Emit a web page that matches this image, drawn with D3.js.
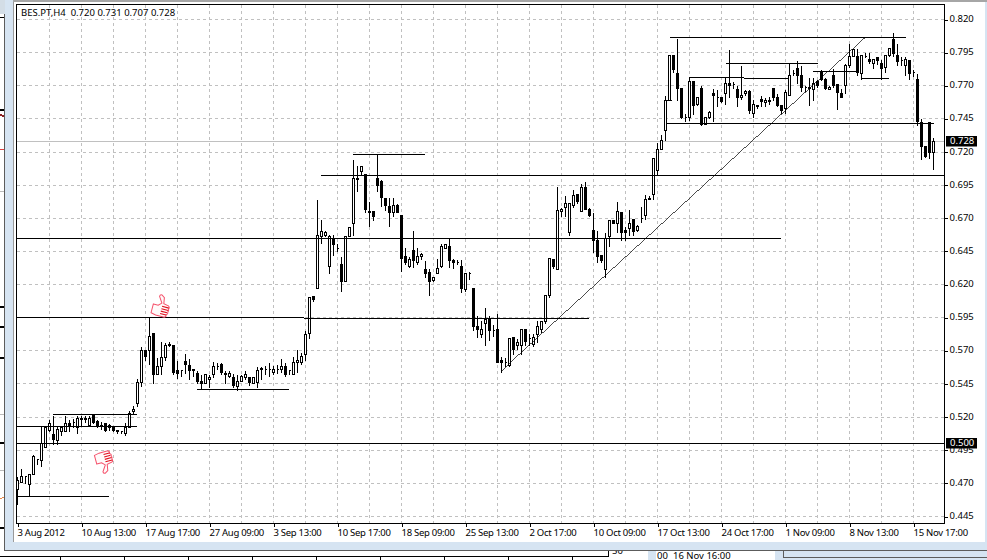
<!DOCTYPE html>
<html><head><meta charset="utf-8">
<script src="https://cdnjs.cloudflare.com/ajax/libs/d3/7.8.5/d3.min.js"></script>
<style>html,body{margin:0;padding:0;background:#fff}svg{display:block}text{font-family:"Noto Sans",sans-serif}</style>
</head><body><svg id="c" width="987" height="560"></svg>
<script>
const title = "BES.PT,H4  0.720 0.731 0.707 0.728";
const dateLabels = ["3 Aug 2012","10 Aug 13:00","17 Aug 17:00","27 Aug 09:00","3 Sep 13:00","10 Sep 17:00","18 Sep 09:00","25 Sep 13:00","2 Oct 17:00","10 Oct 09:00","17 Oct 13:00","24 Oct 17:00","1 Nov 09:00","8 Nov 13:00","15 Nov 17:00"];
const priceTicks = [0.820,0.795,0.770,0.745,0.720,0.695,0.670,0.645,0.620,0.595,0.570,0.545,0.520,0.495,0.470,0.445];
// open, high, low, close per 4-hour bar
const opens = [.465,.471,.475,.469,.477,.488,.487,.497,.510,.507,.502,.509,.509,.515,.516,.512,.519,.519,.514,.521,.517,.514,.515,.512,.513,.510,.509,.508,.512,.524,.530,.546,.570,.570,.583,.552,.558,.565,.575,.574,.555,.555,.562,.559,.556,.553,.547,.545,.548,.552,.558,.560,.553,.551,.550,.543,.547,.550,.550,.545,.546,.557,.556,.556,.554,.556,.556,.558,.555,.552,.561,.561,.567,.583,.611,.617,.656,.657,.634,.655,.647,.635,.622,.656,.666,.700,.705,.703,.675,.675,.700,.698,.685,.679,.674,.680,.672,.641,.634,.646,.637,.641,.631,.629,.623,.628,.634,.647,.649,.638,.637,.634,.616,.628,.617,.588,.582,.591,.594,.585,.586,.563,.561,.559,.580,.574,.574,.586,.579,.575,.582,.586,.592,.612,.639,.631,.675,.678,.659,.680,.688,.675,.693,.677,.661,.653,.642,.631,.656,.668,.666,.674,.661,.662,.669,.661,.670,.672,.685,.688,.706,.722,.736,.759,.793,.779,.768,.746,.746,.773,.756,.768,.741,.746,.764,.761,.761,.764,.772,.771,.767,.761,.764,.766,.749,.755,.760,.757,.759,.768,.761,.755,.753,.763,.779,.783,.778,.769,.769,.767,.773,.781,.775,.767,.778,.771,.764,.770,.785,.792,.792,.779,.792,.790,.787,.791,.787,.784,.793,.805,.793,.789,.785,.789,.780,.775,.742,.724,.742,.720];
const highs = [.475,.481,.476,.477,.492,.489,.513,.513,.518,.521,.513,.513,.521,.518,.519,.521,.521,.521,.521,.521,.518,.517,.516,.515,.513,.511,.510,.516,.525,.529,.549,.573,.570,.595,.584,.565,.577,.576,.577,.575,.563,.556,.568,.564,.557,.555,.552,.552,.552,.562,.561,.561,.555,.555,.553,.552,.552,.555,.551,.550,.558,.558,.559,.561,.559,.560,.564,.561,.556,.566,.571,.569,.585,.610,.612,.684,.669,.661,.658,.658,.651,.641,.657,.663,.714,.710,.710,.704,.683,.676,.718,.699,.686,.686,.686,.681,.673,.648,.641,.661,.648,.644,.638,.632,.626,.640,.651,.651,.655,.640,.639,.639,.629,.630,.617,.597,.593,.603,.597,.590,.598,.566,.565,.580,.581,.579,.587,.586,.583,.583,.593,.593,.612,.640,.639,.694,.678,.687,.681,.692,.688,.696,.698,.678,.674,.661,.642,.659,.669,.669,.683,.675,.664,.677,.669,.665,.679,.688,.687,.715,.727,.733,.763,.793,.793,.806,.769,.749,.776,.773,.761,.770,.746,.751,.768,.767,.762,.776,.797,.773,.770,.785,.767,.767,.760,.756,.763,.761,.762,.769,.764,.755,.767,.787,.782,.789,.785,.770,.776,.776,.775,.782,.776,.770,.783,.771,.768,.787,.802,.798,.798,.793,.795,.795,.790,.792,.790,.793,.799,.810,.802,.792,.792,.790,.782,.779,.745,.725,.742,.731];
const lows = [.454,.471,.470,.460,.477,.484,.483,.497,.509,.499,.499,.506,.509,.509,.512,.508,.514,.516,.513,.515,.512,.511,.509,.510,.509,.508,.508,.506,.512,.523,.528,.543,.563,.560,.545,.552,.552,.563,.573,.552,.549,.551,.553,.548,.551,.545,.541,.545,.542,.550,.556,.552,.545,.550,.542,.540,.547,.548,.544,.545,.542,.548,.552,.551,.552,.553,.554,.551,.552,.552,.554,.560,.563,.579,.607,.617,.651,.656,.628,.642,.645,.615,.622,.656,.657,.690,.703,.674,.664,.668,.690,.679,.676,.664,.671,.674,.630,.635,.633,.633,.635,.639,.625,.612,.622,.628,.633,.647,.633,.632,.635,.614,.615,.624,.585,.580,.580,.574,.578,.581,.561,.554,.558,.558,.567,.571,.567,.574,.574,.573,.576,.584,.591,.610,.632,.631,.671,.671,.657,.678,.681,.675,.677,.671,.644,.637,.637,.625,.649,.666,.659,.653,.653,.657,.657,.660,.667,.669,.684,.684,.703,.722,.729,.759,.780,.759,.745,.743,.744,.748,.755,.740,.741,.745,.743,.754,.757,.756,.761,.768,.754,.760,.763,.749,.746,.753,.754,.754,.756,.759,.754,.749,.749,.763,.778,.772,.766,.766,.755,.759,.769,.774,.767,.767,.769,.752,.761,.764,.784,.792,.778,.775,.791,.787,.783,.786,.775,.780,.792,.792,.785,.785,.778,.775,.777,.740,.714,.716,.715,.707];
const closes = [.472,.475,.475,.477,.490,.488,.500,.512,.515,.503,.511,.512,.515,.514,.516,.519,.518,.518,.519,.516,.514,.513,.510,.514,.510,.509,.509,.512,.523,.526,.546,.570,.566,.581,.552,.558,.565,.574,.574,.554,.553,.555,.560,.555,.555,.547,.545,.552,.550,.558,.558,.554,.552,.553,.544,.547,.551,.552,.546,.550,.555,.556,.556,.556,.556,.556,.558,.552,.555,.561,.563,.566,.582,.610,.609,.657,.660,.659,.656,.650,.647,.622,.656,.663,.700,.699,.709,.677,.674,.671,.695,.686,.680,.674,.680,.674,.640,.637,.639,.638,.641,.643,.628,.622,.625,.632,.649,.650,.638,.637,.637,.617,.628,.628,.588,.586,.586,.594,.585,.585,.561,.561,.561,.579,.571,.576,.586,.577,.579,.580,.588,.592,.612,.640,.634,.676,.677,.681,.681,.687,.683,.693,.677,.672,.653,.641,.638,.655,.668,.666,.675,.659,.659,.666,.660,.664,.670,.684,.684,.715,.722,.729,.759,.793,.782,.768,.746,.746,.773,.755,.761,.741,.746,.750,.763,.761,.758,.772,.770,.771,.761,.763,.766,.751,.756,.754,.758,.759,.758,.761,.755,.751,.765,.778,.779,.778,.769,.769,.768,.772,.770,.775,.768,.769,.770,.765,.761,.785,.792,.797,.780,.793,.792,.788,.790,.789,.783,.793,.798,.794,.788,.789,.790,.779,.780,.743,.724,.717,.720,.728];
// drawn horizontal and trend objects: start bar, start price, end bar, end price
const levelStartBar = [-.25,-.25,71.6,-.25,75.9,83.9,162,163,177,167.9,181.6,198.9,210.9,161.9,-.25,8.9,0,44.9,121];
const levelStartPrice = [.500,.595,.5944,.6548,.7023,.7181,.7415,.8064,.7868,.7762,.7755,.7808,.7755,.7589,.5129,.522,.4601,.5408,.5548];
const levelEndBar = [231.9,71.6,142.9,190.9,231.9,101.9,229,222,200,181.6,192.6,209.9,217.9,163.6,29.9,29.9,22.9,67.9,211.9];
const levelEndPrice = [.500,.595,.5944,.6548,.7023,.7181,.7415,.8064,.7868,.7762,.7755,.7808,.7755,.7589,.5129,.522,.4601,.5408,.8066];
// thumb markers: bar, price, direction
const thumbBars = [35.9,21.75];
const thumbPrices = [.6038,.4861];
const thumbDirs = [1,-1];
const currentPrice = .728, alertPrice = .500;

const svg = d3.select("#c");
const x = d3.scaleLinear().domain([0,229]).range([17.5,933.5]);
const yRaw = d3.scaleLinear().domain([.82,.445]).range([19.5,516.5]);
const y = p => Math.floor(yRaw(p)) + .5;
const L=16.5,R=945,T=4.5,B=523.5;

// window chrome
const pale="#d6e4f2", dark="#5c5c5c";
const rect=(a,b,w,h,f)=>svg.append("rect").attr("x",a).attr("y",b).attr("width",w).attr("height",h).attr("fill",f);
const hl=(a,b,c,d,s,w=1)=>svg.append("line").attr("x1",a).attr("y1",b).attr("x2",c).attr("y2",d).attr("stroke",s).attr("stroke-width",w).attr("shape-rendering","crispEdges");
const chromeText=(s,a,b)=>svg.append("text").attr("x",a).attr("y",b).attr("font-size",9.5).attr("fill","#000").text(s);
rect(0,0,987,560,"#fff");
chromeText("50",612,554);
rect(5,0,982,550,pale);
rect(13,2,972,540,"#fff");
rect(13,0,974,2,"#a6a6a6");
rect(0,0,5,14,"#d3dde6");
hl(4.5,14,4.5,550,dark);
hl(13.5,2,13.5,542,"#9a9a9a");
hl(4,550.5,987,550.5,dark);
hl(0,17.5,4,17.5,"#000");
[109,306,326,357,442,527].forEach(v=>hl(0,v+.5,4,v+.5,"#000",2));
[191,414,470].forEach(v=>hl(0,v+.5,4,v+.5,"#bbb"));
hl(0,115,4,116,"#8a2020",2);hl(0,149,4,150,"#e04040");hl(0,499,4,497,"#e8894a");
rect(648,551,8,9,pale);rect(775,551,212,9,pale);
hl(783.5,551,783.5,558,dark);hl(783,557.5,987,557.5,dark);
hl(0,556.5,609,556.5,"#000");hl(608.5,551,608.5,557,"#000");
[60,124,188,252,316,380,444,508,572].forEach(v=>hl(v+.5,557,v+.5,560,"#000"));
chromeText("00",657,558.5);chromeText("16 Nov 16:00",673,558.5);

// grid
const gridBars = d3.range(8,229,8);
svg.append("g").selectAll("line").data(gridBars).join("line")
 .attr("x1",x).attr("x2",x).attr("y1",T).attr("y2",B)
 .attr("stroke","#c0c0c0").attr("stroke-dasharray","3,3").attr("shape-rendering","crispEdges");
svg.append("g").selectAll("line").data(priceTicks).join("line")
 .attr("x1",L).attr("x2",R).attr("y1",y).attr("y2",y)
 .attr("stroke","#c0c0c0").attr("stroke-dasharray","3,3").attr("shape-rendering","crispEdges");
// current bid line
svg.append("line").attr("x1",L).attr("x2",R).attr("y1",y(currentPrice)).attr("y2",y(currentPrice))
 .attr("stroke","#c0c0c0").attr("shape-rendering","crispEdges");

// candles
const bars = opens.map((o,i)=>({i,o,h:highs[i],l:lows[i],c:closes[i]}));
const g = svg.append("g").attr("shape-rendering","crispEdges");
const cs = g.selectAll("g").data(bars).join("g");
cs.append("line").attr("x1",d=>x(d.i)).attr("x2",d=>x(d.i))
 .attr("y1",d=>y(d.h)).attr("y2",d=>y(d.l)+.5).attr("stroke","#000");
cs.append("path").attr("d",d=>{
  const p=d3.path(),a=x(d.i)-1,b=x(d.i)+1,t=y(Math.max(d.o,d.c)),u=y(Math.min(d.o,d.c));
  p.moveTo(a,t);p.lineTo(b,t);p.lineTo(b,u);p.lineTo(a,u);p.closePath();return p.toString();
}).attr("fill",d=>d.c<d.o?"#000":"#fff").attr("stroke","#000");

// objects
svg.append("g").selectAll("line").data(levelStartBar).join("line")
 .attr("x1",d=>x(d)).attr("x2",(d,i)=>x(levelEndBar[i]))
 .attr("y1",(d,i)=>y(levelStartPrice[i])).attr("y2",(d,i)=>y(levelEndPrice[i]))
 .attr("stroke","#000").attr("stroke-width",(d,i)=>levelStartPrice[i]===levelEndPrice[i]?1:.7)
 .attr("shape-rendering","crispEdges");

// thumbs
const thumb="M-8,0L-3,0L0,-3L-4,-9Q-4,-11 -2,-11L1,-9L2,-3L7,-2Q9,-1 8,1Q9,3 8,4Q9,6 7,7Q8,9 6,10L-3,10L-8,9Z";
const th = svg.append("g").selectAll("g").data(thumbBars).join("g")
 .attr("transform",(d,i)=>`translate(${x(d)},${yRaw(thumbPrices[i])}) scale(1,${thumbDirs[i]}) rotate(15)`);
th.append("path").attr("d",thumb).attr("fill","#fffafa").attr("stroke","#f5506a").attr("stroke-width",1);
th.append("path").attr("d","M1,0H8M1,2.5H8M1,5H7.5M1,7.5H7").attr("stroke","#e0101e").attr("stroke-width",1.1).attr("fill","none");

// frame and axes
svg.append("path").attr("d",`M${L},${T}H${R-.5}V${B}H${L}Z`).attr("fill","none").attr("stroke","#000").attr("shape-rendering","crispEdges");
const labelBars = dateLabels.map((_,i)=>i*16);
const xa = d3.axisBottom(x).tickValues(labelBars).tickFormat((d,i)=>dateLabels[i]).tickSize(3).tickPadding(3);
const gx = svg.append("g").attr("transform",`translate(0,${B})`).call(xa);
gx.select(".domain").remove();
gx.selectAll("line").attr("stroke","#000").attr("shape-rendering","crispEdges");
gx.selectAll("text").attr("text-anchor","start").attr("fill","#000").attr("font-size",9.5).attr("font-family",'"Noto Sans",sans-serif').attr("dx",-.5).attr("letter-spacing",-.28);
const ya = d3.axisRight(yRaw).tickValues(priceTicks).tickFormat(d3.format(".3f")).tickSize(3).tickPadding(2);
const gy = svg.append("g").attr("transform",`translate(${R-.5},0)`).call(ya);
gy.select(".domain").remove();
gy.selectAll("line").attr("stroke","#000").attr("shape-rendering","crispEdges");
gy.selectAll("text").attr("fill","#000").attr("font-size",9.5).attr("font-family",'"Noto Sans",sans-serif').attr("dy","0.22em");

// price tags
[currentPrice,alertPrice].forEach(p=>{
  svg.append("rect").attr("x",946).attr("y",y(p)-5.5).attr("width",31).attr("height",10.5).attr("fill","#000");
  svg.append("text").attr("x",950).attr("y",y(p)+2.8).attr("font-size",9.5).attr("fill","#fff").text(d3.format(".3f")(p));
});
svg.append("text").attr("x",21).attr("y",16).attr("font-size",9.5).attr("fill","#000").attr("xml:space","preserve").style("white-space","pre").text(title);
</script></body></html>
